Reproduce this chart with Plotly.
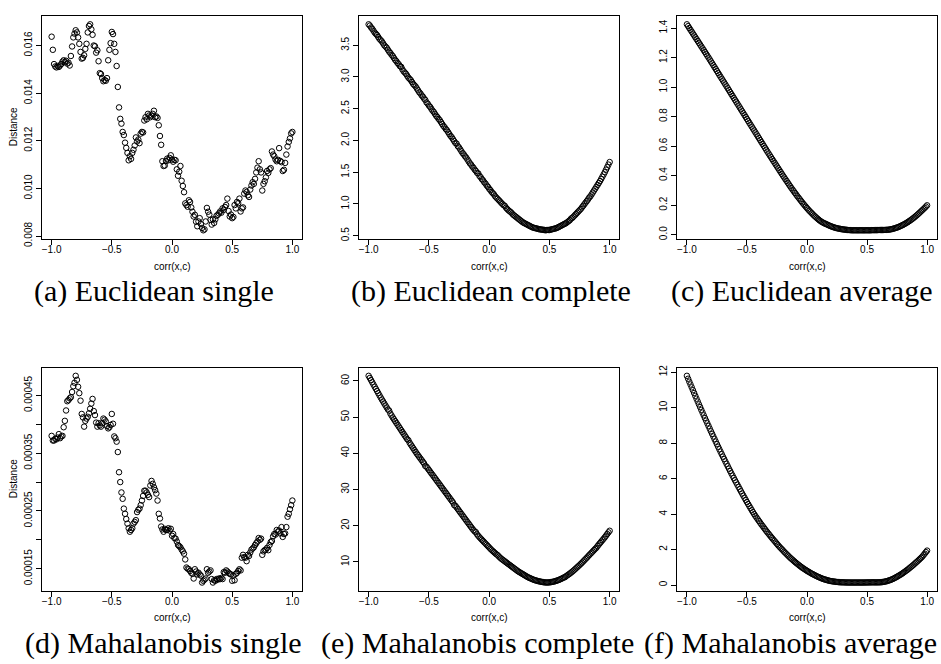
import plotly.graph_objects as go

# ---------------- data ----------------
x_grid = [round(-1 + 0.01 * i, 2) for i in range(201)]

euclid_single = [
    16.37e-3, 15.82e-3, 15.22e-3, 15.12e-3, 15.08e-3, 15.14e-3, 15.10e-3, 15.16e-3, 15.22e-3, 15.32e-3,
    15.38e-3, 15.30e-3, 15.36e-3, 15.24e-3, 15.28e-3, 15.16e-3, 15.56e-3, 15.96e-3, 16.34e-3, 16.50e-3,
    16.64e-3, 16.55e-3, 16.34e-3, 16.07e-3, 15.73e-3, 15.45e-3, 15.48e-3, 15.59e-3, 15.86e-3, 16.07e-3,
    16.55e-3, 16.82e-3, 16.89e-3, 16.68e-3, 16.45e-3, 16.00e-3, 15.97e-3, 15.70e-3, 15.80e-3, 15.34e-3,
    14.84e-3, 14.80e-3, 14.63e-3, 14.50e-3, 14.55e-3, 14.52e-3, 14.63e-3, 15.38e-3, 15.82e-3, 16.10e-3,
    16.57e-3, 16.48e-3, 16.07e-3, 15.73e-3, 15.14e-3, 14.26e-3, 13.40e-3, 12.92e-3, 12.72e-3, 12.37e-3,
    12.24e-3, 11.92e-3, 11.70e-3, 11.49e-3, 11.18e-3, 11.35e-3, 11.24e-3, 11.49e-3, 11.62e-3, 11.80e-3,
    12.14e-3, 11.97e-3, 12.05e-3, 11.90e-3, 12.30e-3, 12.37e-3, 12.35e-3, 12.85e-3, 12.99e-3, 12.90e-3,
    13.13e-3, 13.06e-3, 12.99e-3, 13.05e-3, 13.13e-3, 13.26e-3, 12.99e-3, 13.02e-3, 12.96e-3, 12.65e-3,
    12.20e-3, 11.83e-3, 11.14e-3, 10.94e-3, 10.96e-3, 11.15e-3, 11.25e-3, 11.18e-3, 11.28e-3, 11.39e-3,
    11.21e-3, 11.12e-3, 11.20e-3, 11.18e-3, 10.80e-3, 10.53e-3, 10.70e-3, 10.94e-3, 10.32e-3, 10.10e-3,
    9.84e-3, 9.37e-3, 9.30e-3, 9.23e-3, 9.50e-3, 9.43e-3, 9.20e-3, 9.02e-3, 8.82e-3, 8.89e-3,
    8.60e-3, 8.41e-3, 8.61e-3, 8.75e-3, 8.50e-3, 8.34e-3, 8.24e-3, 8.28e-3, 8.61e-3, 9.18e-3,
    9.02e-3, 8.90e-3, 8.68e-3, 8.48e-3, 8.70e-3, 8.55e-3, 8.70e-3, 8.85e-3, 8.89e-3, 8.95e-3,
    9.03e-3, 8.98e-3, 9.16e-3, 9.10e-3, 9.22e-3, 9.30e-3, 9.57e-3, 9.05e-3, 8.82e-3, 8.90e-3,
    8.75e-3, 8.80e-3, 9.30e-3, 9.16e-3, 9.43e-3, 9.38e-3, 9.57e-3, 9.03e-3, 9.16e-3, 9.20e-3,
    9.78e-3, 9.91e-3, 9.85e-3, 9.71e-3, 9.64e-3, 9.95e-3, 10.12e-3, 10.26e-3, 10.19e-3, 10.40e-3,
    10.67e-3, 10.87e-3, 11.14e-3, 10.80e-3, 10.67e-3, 9.91e-3, 10.19e-3, 10.30e-3, 10.46e-3, 10.73e-3,
    10.65e-3, 10.80e-3, 10.85e-3, 11.55e-3, 11.42e-3, 11.35e-3, 11.21e-3, 11.14e-3, 11.20e-3, 11.69e-3,
    11.15e-3, 11.10e-3, 10.73e-3, 10.78e-3, 11.07e-3, 11.42e-3, 11.76e-3, 11.95e-3, 12.10e-3, 12.31e-3,
    12.37e-3,
]

euclid_complete = [
    3.83, 3.81, 3.78, 3.76, 3.73, 3.70, 3.68, 3.66, 3.63, 3.60,
    3.58, 3.56, 3.53, 3.50, 3.48, 3.46, 3.43, 3.40, 3.38, 3.35,
    3.33, 3.30, 3.27, 3.25, 3.22, 3.20, 3.17, 3.16, 3.12, 3.09,
    3.07, 3.05, 3.02, 2.99, 2.97, 2.95, 2.92, 2.89, 2.87, 2.85,
    2.82, 2.79, 2.76, 2.74, 2.71, 2.69, 2.66, 2.64, 2.60, 2.58,
    2.55, 2.53, 2.50, 2.47, 2.45, 2.42, 2.39, 2.37, 2.34, 2.32,
    2.29, 2.26, 2.23, 2.21, 2.18, 2.16, 2.13, 2.10, 2.07, 2.05,
    2.02, 1.99, 1.96, 1.95, 1.91, 1.89, 1.86, 1.83, 1.80, 1.78,
    1.75, 1.73, 1.70, 1.67, 1.64, 1.62, 1.59, 1.57, 1.54, 1.52,
    1.49, 1.48, 1.44, 1.42, 1.39, 1.37, 1.34, 1.32, 1.29, 1.27,
    1.24, 1.22, 1.19, 1.17, 1.15, 1.12, 1.10, 1.08, 1.06, 1.04,
    1.02, 1.00, 0.98, 0.97, 0.94, 0.92, 0.90, 0.885, 0.87, 0.85,
    0.83, 0.815, 0.80, 0.785, 0.77, 0.755, 0.74, 0.725, 0.71, 0.70,
    0.69, 0.68, 0.67, 0.66, 0.65, 0.64, 0.63, 0.625, 0.62, 0.615,
    0.61, 0.605, 0.60, 0.598, 0.595, 0.592, 0.59, 0.585, 0.59, 0.59,
    0.59, 0.595, 0.60, 0.605, 0.61, 0.615, 0.62, 0.63, 0.64, 0.65,
    0.66, 0.67, 0.68, 0.69, 0.70, 0.715, 0.73, 0.745, 0.77, 0.78,
    0.80, 0.82, 0.84, 0.86, 0.88, 0.90, 0.92, 0.945, 0.97, 0.995,
    1.02, 1.045, 1.07, 1.10, 1.12, 1.15, 1.18, 1.21, 1.24, 1.27,
    1.30, 1.33, 1.36, 1.395, 1.43, 1.465, 1.50, 1.54, 1.58, 1.62,
    1.66,
]

euclid_average = [
    1.425, 1.4125, 1.400, 1.3875, 1.375, 1.3625, 1.350, 1.3375, 1.325, 1.3125,
    1.300, 1.2875, 1.275, 1.2625, 1.250, 1.2375, 1.225, 1.2125, 1.200, 1.187,
    1.174, 1.161, 1.148, 1.135, 1.122, 1.109, 1.096, 1.083, 1.070, 1.057,
    1.044, 1.031, 1.018, 1.005, 0.992, 0.979, 0.966, 0.953, 0.940, 0.927,
    0.914, 0.901, 0.888, 0.875, 0.862, 0.849, 0.836, 0.823, 0.810, 0.797,
    0.784, 0.771, 0.758, 0.745, 0.732, 0.719, 0.706, 0.693, 0.680, 0.667,
    0.654, 0.641, 0.628, 0.615, 0.602, 0.589, 0.576, 0.563, 0.550, 0.5375,
    0.525, 0.5125, 0.500, 0.4875, 0.475, 0.4625, 0.450, 0.4375, 0.425, 0.4125,
    0.400, 0.388, 0.376, 0.364, 0.352, 0.340, 0.328, 0.3165, 0.305, 0.294,
    0.283, 0.272, 0.261, 0.2505, 0.240, 0.2295, 0.219, 0.209, 0.199, 0.1895,
    0.180, 0.171, 0.162, 0.1535, 0.145, 0.137, 0.129, 0.1215, 0.114, 0.107,
    0.100, 0.094, 0.088, 0.0835, 0.079, 0.0755, 0.072, 0.068, 0.064, 0.0605,
    0.057, 0.054, 0.051, 0.0485, 0.046, 0.044, 0.042, 0.0405, 0.039, 0.0375,
    0.036, 0.035, 0.034, 0.033, 0.032, 0.0315, 0.031, 0.0305, 0.030, 0.030,
    0.030, 0.030, 0.030, 0.030, 0.030, 0.030, 0.030, 0.030, 0.030, 0.030,
    0.030, 0.030, 0.030, 0.030, 0.031, 0.031, 0.031, 0.031, 0.031, 0.0315,
    0.032, 0.032, 0.032, 0.032, 0.032, 0.0325, 0.033, 0.0335, 0.034, 0.0355,
    0.037, 0.039, 0.041, 0.0435, 0.046, 0.049, 0.052, 0.0555, 0.059, 0.063,
    0.067, 0.0715, 0.076, 0.081, 0.086, 0.0915, 0.097, 0.103, 0.109, 0.1155,
    0.122, 0.129, 0.136, 0.1435, 0.151, 0.1585, 0.166, 0.174, 0.182, 0.1905,
    0.199,
]

mahal_single = [
    3.80e-4, 3.72e-4, 3.72e-4, 3.75e-4, 3.74e-4, 3.77e-4, 3.83e-4, 3.76e-4, 3.79e-4, 3.80e-4,
    3.95e-4, 4.06e-4, 4.24e-4, 4.40e-4, 4.42e-4, 4.45e-4, 4.47e-4, 4.56e-4, 4.66e-4, 4.72e-4,
    4.84e-4, 4.77e-4, 4.65e-4, 4.54e-4, 4.41e-4, 4.18e-4, 4.12e-4, 3.96e-4, 4.06e-4, 4.10e-4,
    4.13e-4, 4.19e-4, 4.27e-4, 4.36e-4, 4.44e-4, 4.23e-4, 4.16e-4, 4.03e-4, 3.96e-4, 4.02e-4,
    3.98e-4, 3.96e-4, 4.02e-4, 4.10e-4, 4.08e-4, 4.05e-4, 3.97e-4, 3.93e-4, 3.95e-4, 3.99e-4,
    4.18e-4, 4.01e-4, 3.79e-4, 3.76e-4, 3.70e-4, 3.52e-4, 3.17e-4, 3.00e-4, 2.82e-4, 2.71e-4,
    2.54e-4, 2.45e-4, 2.36e-4, 2.28e-4, 2.20e-4, 2.14e-4, 2.17e-4, 2.20e-4, 2.28e-4, 2.31e-4,
    2.34e-4, 2.48e-4, 2.52e-4, 2.54e-4, 2.60e-4, 2.68e-4, 2.76e-4, 2.85e-4, 2.85e-4, 2.82e-4,
    2.78e-4, 2.74e-4, 2.94e-4, 3.02e-4, 2.97e-4, 2.91e-4, 2.86e-4, 2.80e-4, 2.68e-4, 2.45e-4,
    2.37e-4, 2.23e-4, 2.18e-4, 2.14e-4, 2.19e-4, 2.17e-4, 2.17e-4, 2.20e-4, 2.16e-4, 2.19e-4,
    2.07e-4, 2.10e-4, 2.03e-4, 2.02e-4, 1.97e-4, 1.91e-4, 1.89e-4, 1.87e-4, 1.83e-4, 1.80e-4,
    1.76e-4, 1.66e-4, 1.52e-4, 1.50e-4, 1.49e-4, 1.46e-4, 1.43e-4, 1.41e-4, 1.33e-4, 1.49e-4,
    1.45e-4, 1.40e-4, 1.43e-4, 1.40e-4, 1.38e-4, 1.26e-4, 1.29e-4, 1.31e-4, 1.33e-4, 1.49e-4,
    1.43e-4, 1.45e-4, 1.47e-4, 1.32e-4, 1.26e-4, 1.30e-4, 1.29e-4, 1.32e-4, 1.31e-4, 1.33e-4,
    1.32e-4, 1.34e-4, 1.32e-4, 1.44e-4, 1.43e-4, 1.47e-4, 1.45e-4, 1.43e-4, 1.41e-4, 1.40e-4,
    1.29e-4, 1.38e-4, 1.30e-4, 1.41e-4, 1.43e-4, 1.46e-4, 1.49e-4, 1.47e-4, 1.69e-4, 1.74e-4,
    1.70e-4, 1.69e-4, 1.63e-4, 1.74e-4, 1.72e-4, 1.78e-4, 1.83e-4, 1.85e-4, 1.87e-4, 1.91e-4,
    1.94e-4, 1.97e-4, 2.03e-4, 2.00e-4, 2.02e-4, 1.74e-4, 1.80e-4, 1.82e-4, 1.83e-4, 1.86e-4,
    1.82e-4, 1.91e-4, 1.96e-4, 1.98e-4, 2.06e-4, 2.10e-4, 2.09e-4, 2.17e-4, 2.14e-4, 2.16e-4,
    2.11e-4, 2.22e-4, 2.05e-4, 2.10e-4, 2.11e-4, 2.22e-4, 2.40e-4, 2.45e-4, 2.53e-4, 2.60e-4,
    2.68e-4,
]

mahal_complete = [
    61.4, 60.8, 60.2, 59.6, 59.0, 58.4, 57.8, 57.2, 56.6, 56.0,
    55.4, 54.85, 54.3, 53.75, 53.2, 52.65, 52.1, 51.8, 51.0, 50.45,
    49.9, 49.4, 48.9, 48.4, 47.9, 47.4, 46.9, 46.4, 45.9, 45.4,
    44.9, 44.4, 43.9, 43.6, 42.9, 42.4, 41.9, 41.4, 40.9, 40.4,
    39.9, 39.45, 39.0, 38.55, 38.1, 37.65, 37.2, 36.5, 36.3, 35.85,
    35.4, 34.95, 34.5, 34.05, 33.6, 33.15, 32.7, 32.25, 31.8, 31.35,
    30.9, 30.45, 30.0, 29.55, 29.1, 28.65, 28.2, 27.75, 27.3, 26.85,
    26.4, 25.7, 25.5, 25.05, 24.6, 24.15, 23.7, 23.25, 22.8, 22.35,
    21.9, 21.45, 21.0, 20.55, 20.1, 19.65, 19.2, 18.8, 18.4, 18.2,
    17.6, 17.2, 16.8, 16.45, 16.1, 15.75, 15.4, 15.05, 14.7, 14.35,
    14.0, 13.65, 13.3, 13.0, 12.7, 12.4, 12.1, 11.9, 11.5, 11.2,
    10.9, 10.65, 10.4, 10.15, 9.9, 9.65, 9.4, 9.15, 8.9, 8.65,
    8.4, 8.15, 7.9, 7.65, 7.4, 7.2, 7.0, 6.8, 6.6, 6.4,
    6.2, 6.0, 5.8, 5.65, 5.5, 5.35, 5.2, 5.07, 4.95, 4.85,
    4.75, 4.67, 4.6, 4.52, 4.45, 4.4, 4.35, 4.32, 4.3, 4.32,
    4.35, 4.4, 4.45, 4.52, 4.6, 4.7, 4.8, 4.92, 5.05, 5.2,
    5.35, 5.52, 5.7, 5.8, 6.1, 6.32, 6.55, 6.8, 7.05, 7.32,
    7.6, 7.9, 8.2, 8.5, 8.8, 9.12, 9.45, 9.78, 10.1, 10.45,
    10.8, 11.15, 11.5, 11.85, 12.2, 12.55, 12.9, 13.25, 13.6, 13.9,
    14.4, 14.8, 15.2, 15.6, 16.0, 16.4, 16.8, 17.25, 17.7, 18.15,
    18.6,
]

mahal_average = [
    11.80, 11.635, 11.47, 11.31, 11.15, 10.99, 10.83, 10.67, 10.51, 10.35,
    10.19, 10.035, 9.88, 9.725, 9.57, 9.42, 9.27, 9.12, 8.97, 8.82,
    8.67, 8.525, 8.38, 8.235, 8.09, 7.945, 7.80, 7.66, 7.52, 7.38,
    7.24, 7.105, 6.97, 6.835, 6.70, 6.565, 6.43, 6.30, 6.17, 6.04,
    5.91, 5.785, 5.66, 5.535, 5.41, 5.285, 5.16, 5.04, 4.92, 4.80,
    4.68, 4.565, 4.45, 4.335, 4.22, 4.11, 4.00, 3.90, 3.80, 3.705,
    3.61, 3.515, 3.42, 3.33, 3.24, 3.15, 3.06, 2.975, 2.89, 2.805,
    2.72, 2.64, 2.56, 2.48, 2.40, 2.32, 2.24, 2.165, 2.09, 2.02,
    1.95, 1.88, 1.81, 1.74, 1.67, 1.605, 1.54, 1.48, 1.42, 1.36,
    1.30, 1.245, 1.19, 1.135, 1.08, 1.03, 0.98, 0.935, 0.89, 0.845,
    0.80, 0.76, 0.72, 0.68, 0.64, 0.605, 0.57, 0.535, 0.50, 0.47,
    0.44, 0.41, 0.38, 0.355, 0.33, 0.31, 0.29, 0.27, 0.25, 0.235,
    0.22, 0.21, 0.20, 0.19, 0.18, 0.172, 0.165, 0.16, 0.155, 0.152,
    0.150, 0.148, 0.145, 0.143, 0.142, 0.141, 0.140, 0.140, 0.140, 0.140,
    0.140, 0.140, 0.140, 0.140, 0.140, 0.140, 0.140, 0.141, 0.142, 0.143,
    0.145, 0.146, 0.148, 0.149, 0.150, 0.150, 0.150, 0.150, 0.150, 0.150,
    0.150, 0.155, 0.160, 0.170, 0.180, 0.195, 0.210, 0.23, 0.25, 0.275,
    0.30, 0.33, 0.36, 0.395, 0.43, 0.47, 0.51, 0.55, 0.59, 0.635,
    0.68, 0.73, 0.78, 0.83, 0.88, 0.935, 0.99, 1.045, 1.10, 1.16,
    1.22, 1.28, 1.34, 1.405, 1.47, 1.535, 1.60, 1.685, 1.77, 1.855,
    1.94,
]

for _s in (euclid_single, euclid_complete, euclid_average, mahal_single, mahal_complete, mahal_average):
    assert len(_s) == len(x_grid)

x_tickvals = [-1.0, -0.5, 0.0, 0.5, 1.0]
x_ticktext = ["\u22121.0", "\u22120.5", "0.0", "0.5", "1.0"]

ticks_a = [0.008, 0.010, 0.012, 0.014, 0.016]
labels_a = ["0.008", "0.010", "0.012", "0.014", "0.016"]
ticks_b = [0.5, 1.0, 1.5, 2.0, 2.5, 3.0, 3.5]
labels_b = ["0.5", "1.0", "1.5", "2.0", "2.5", "3.0", "3.5"]
ticks_c = [0.0, 0.2, 0.4, 0.6, 0.8, 1.0, 1.2, 1.4]
labels_c = ["0.0", "0.2", "0.4", "0.6", "0.8", "1.0", "1.2", "1.4"]
ticks_d = [0.00015, 0.00020, 0.00025, 0.00030, 0.00035, 0.00040, 0.00045]
labels_d = ["0.00015", "", "0.00025", "", "0.00035", "", "0.00045"]
ticks_e = [10, 20, 30, 40, 50, 60]
labels_e = ["10", "20", "30", "40", "50", "60"]
ticks_f = [0, 2, 4, 6, 8, 10, 12]
labels_f = ["0", "2", "4", "6", "8", "10", "12"]

captions = ["(a) Euclidean single", "(b) Euclidean complete", "(c) Euclidean average",
            "(d) Mahalanobis single", "(e) Mahalanobis complete", "(f) Mahalanobis average"]
x_title = "corr(x,c)"
y_title = "Distance"

# ---------------- layout helpers ----------------
W, H = 941, 664


def fx(p):
    return p / W


def fy(p):
    return 1 - p / H


col_px = [(42, 302), (359, 619.3), (677.3, 936.7)]
row_px = [(13.3, 239.5), (370.7, 597.7)]
caption_cx = [154, 491, 801.5, 163, 477, 790]
caption_cy = [293, 651]
xtitle_cy = [268, 625]

panels = [
    (euclid_single, ticks_a, labels_a, 0, 0, True),
    (euclid_complete, ticks_b, labels_b, 0, 1, False),
    (euclid_average, ticks_c, labels_c, 0, 2, False),
    (mahal_single, ticks_d, labels_d, 1, 0, True),
    (mahal_complete, ticks_e, labels_e, 1, 1, False),
    (mahal_average, ticks_f, labels_f, 1, 2, False),
]

tick_font = dict(family="Liberation Sans, Arial, sans-serif", size=10, color="black")
cap_font = dict(family="Liberation Serif, Times New Roman, serif", size=30, color="black")

fig = go.Figure()
annotations = []
layout = {}

for i, (ys, tv, tt, r, c, has_ylab) in enumerate(panels):
    n = i + 1
    xa = "xaxis" if n == 1 else f"xaxis{n}"
    ya = "yaxis" if n == 1 else f"yaxis{n}"
    xref = "x" if n == 1 else f"x{n}"
    yref = "y" if n == 1 else f"y{n}"

    fig.add_trace(go.Scatter(
        x=x_grid, y=ys, mode="markers", xaxis=xref, yaxis=yref,
        marker=dict(symbol="circle-open", size=5.5, color="black", line=dict(width=1, color="black")),
        hoverinfo="skip", showlegend=False,
    ))

    ymin, ymax = min(ys), max(ys)
    pad = 0.04 * (ymax - ymin)
    x0, x1 = col_px[c]
    y0, y1 = row_px[r]

    common = dict(showline=True, linecolor="black", linewidth=1, mirror=True,
                  ticks="outside", ticklen=5, tickwidth=1, tickcolor="black",
                  showgrid=False, zeroline=False, tickfont=tick_font)
    layout[xa] = dict(domain=[fx(x0), fx(x1)], range=[-1.08, 1.08], anchor=yref,
                      tickmode="array", tickvals=x_tickvals, ticktext=x_ticktext,
                      ticklabelstandoff=-4, **common)
    layout[ya] = dict(domain=[fy(y1), fy(y0)], range=[ymin - pad, ymax + pad], anchor=xref,
                      tickmode="array", tickvals=tv, ticktext=tt, tickangle=-90, **common)

    annotations.append(dict(text=x_title, x=fx((x0 + x1) / 2), y=fy(xtitle_cy[r]),
                            xref="paper", yref="paper", showarrow=False,
                            xanchor="center", yanchor="middle", font=tick_font))
    if has_ylab:
        annotations.append(dict(text=y_title, x=fx(13), y=fy((y0 + y1) / 2),
                                xref="paper", yref="paper", showarrow=False, textangle=-90,
                                xanchor="center", yanchor="middle", font=tick_font))
    annotations.append(dict(text=captions[i], x=fx(caption_cx[i]), y=fy(caption_cy[r]),
                            xref="paper", yref="paper", showarrow=False,
                            xanchor="center", yanchor="middle", font=cap_font))

fig.update_layout(
    width=W, height=H, margin=dict(l=0, r=0, t=0, b=0),
    paper_bgcolor="white", plot_bgcolor="white",
    annotations=annotations, **layout,
)

fig.write_html("out.html")
